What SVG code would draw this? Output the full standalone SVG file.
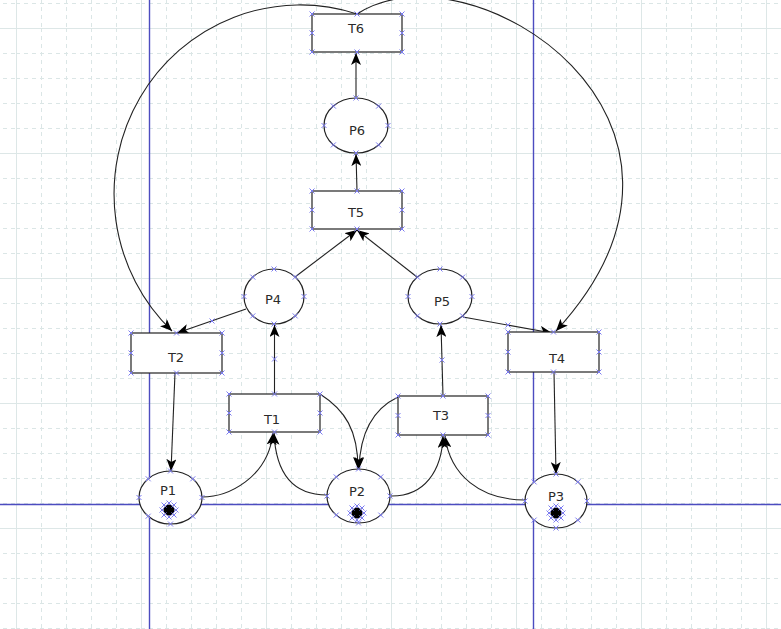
<svg xmlns="http://www.w3.org/2000/svg" xmlns:xlink="http://www.w3.org/1999/xlink" width="781" height="629" viewBox="0 0 781 629">
<style>
.node{fill:#fff;stroke:#222;stroke-width:1.2}
.lbl{font-family:"DejaVu Sans",Verdana,sans-serif;font-size:13px;fill:#2a2a2a;text-anchor:middle}
.arc{fill:none;stroke:#222;stroke-width:1.1;marker-end:url(#ah)}
.xm{fill:none;stroke:#7b7bf0;stroke-width:1}
.guide{stroke:#4c4cc0;stroke-width:1.4}
.tok{fill:#000}
</style>
<defs>
<pattern id="grid" x="16" y="28" width="125" height="125" patternUnits="userSpaceOnUse">
<path d="M0.5,0V125M0,0.5H125" stroke="#dde7e7" fill="none"/>
<path d="M25.5,0V125M50.5,0V125M75.5,0V125M100.5,0V125M0,25.5H125M0,50.5H125M0,75.5H125M0,100.5H125" stroke="#dbe6e6" stroke-dasharray="4,4" fill="none"/>
</pattern>
<marker id="ah" viewBox="0 0 12 10" refX="12" refY="5" markerWidth="12" markerHeight="10" markerUnits="userSpaceOnUse" orient="auto">
<path d="M0,0 L12,5 L0,10 L3,5 z" fill="#000"/>
</marker>
<path id="x" class="xm" d="M-2.5,-2.5l5,5m0,-5l-5,5"/>
</defs>
<rect width="781" height="629" fill="#fff"/>
<rect width="781" height="629" fill="url(#grid)"/>
<g id="guides">
<line class="guide" x1="149.5" y1="0" x2="149.5" y2="629"/>
<line class="guide" x1="533.5" y1="0" x2="533.5" y2="629"/>
<line class="guide" x1="0" y1="504.5" x2="781" y2="504.5"/>
</g>
<g id="connectors">
<path class="arc" d="M357,14 A186,189 0 0,0 172,331"/>
<path class="arc" d="M357,14 C470,-60 750,120 556,331"/>
<path class="arc" d="M356,98 L356,53"/>
<path class="arc" d="M357,191 L356,154"/>
<path class="arc" d="M295,277 L357,230"/>
<path class="arc" d="M417,277 L357,230"/>
<path class="arc" d="M246,309 L177,333"/>
<path class="arc" d="M463,317 L552,333"/>
<path class="arc" d="M274.5,394 L274.5,325"/>
<path class="arc" d="M443,396 L441,325"/>
<path class="arc" d="M175,373 L171,471"/>
<path class="arc" d="M554,372 L556,474"/>
<path class="arc" d="M202,497 C228,497 268,478 273,433"/>
<path class="arc" d="M327,495 C296,495 276,478 274,433"/>
<path class="arc" d="M320,394 C345,410 358,430 358,469"/>
<path class="arc" d="M398,397 C375,408 360,430 359,469"/>
<path class="arc" d="M390,496 C425,497 442,470 443,436"/>
<path class="arc" d="M525,500 C480,500 450,475 445,436"/>
<use href="#x" x="212" y="321"/>
<use href="#x" x="274.5" y="359"/>
<use href="#x" x="442" y="360"/>
<use href="#x" x="508" y="325"/>
</g>
<g id="T6">
<rect class="node" x="312" y="14" width="90" height="38"/>
<text class="lbl" x="356" y="33">T6</text>
<use href="#x" x="312" y="14"/><use href="#x" x="357" y="14"/><use href="#x" x="402" y="14"/><use href="#x" x="312" y="33"/><use href="#x" x="402" y="33"/><use href="#x" x="312" y="52"/><use href="#x" x="357" y="52"/><use href="#x" x="402" y="52"/>
</g>
<g id="P6">
<ellipse class="node" cx="356" cy="125.5" rx="32" ry="27.5"/>
<text class="lbl" x="357" y="135">P6</text>
<use href="#x" x="324" y="125.5"/><use href="#x" x="388" y="125.5"/><use href="#x" x="356" y="98"/><use href="#x" x="356" y="153"/><use href="#x" x="378.6" y="106.1"/><use href="#x" x="378.6" y="144.9"/><use href="#x" x="333.4" y="106.1"/><use href="#x" x="333.4" y="144.9"/>
</g>
<g id="T5">
<rect class="node" x="312" y="191" width="90" height="38"/>
<text class="lbl" x="356" y="217">T5</text>
<use href="#x" x="312" y="191"/><use href="#x" x="357" y="191"/><use href="#x" x="402" y="191"/><use href="#x" x="312" y="210"/><use href="#x" x="402" y="210"/><use href="#x" x="312" y="229"/><use href="#x" x="357" y="229"/><use href="#x" x="402" y="229"/>
</g>
<g id="P4">
<ellipse class="node" cx="274" cy="296.5" rx="30" ry="27.5"/>
<text class="lbl" x="273" y="304">P4</text>
<use href="#x" x="244" y="296.5"/><use href="#x" x="304" y="296.5"/><use href="#x" x="274" y="269"/><use href="#x" x="274" y="324"/><use href="#x" x="295.2" y="277.1"/><use href="#x" x="295.2" y="315.9"/><use href="#x" x="252.8" y="277.1"/><use href="#x" x="252.8" y="315.9"/>
</g>
<g id="P5">
<ellipse class="node" cx="440" cy="296.5" rx="32" ry="27.5"/>
<text class="lbl" x="442" y="306">P5</text>
<use href="#x" x="408" y="296.5"/><use href="#x" x="472" y="296.5"/><use href="#x" x="440" y="269"/><use href="#x" x="440" y="324"/><use href="#x" x="462.6" y="277.1"/><use href="#x" x="462.6" y="315.9"/><use href="#x" x="417.4" y="277.1"/><use href="#x" x="417.4" y="315.9"/>
</g>
<g id="T2">
<rect class="node" x="131" y="333" width="91" height="40"/>
<text class="lbl" x="176" y="362">T2</text>
<use href="#x" x="131" y="333"/><use href="#x" x="176.5" y="333"/><use href="#x" x="222" y="333"/><use href="#x" x="131" y="353"/><use href="#x" x="222" y="353"/><use href="#x" x="131" y="373"/><use href="#x" x="176.5" y="373"/><use href="#x" x="222" y="373"/>
</g>
<g id="T4">
<rect class="node" x="508" y="332" width="91" height="40"/>
<text class="lbl" x="557" y="363">T4</text>
<use href="#x" x="508" y="332"/><use href="#x" x="553.5" y="332"/><use href="#x" x="599" y="332"/><use href="#x" x="508" y="352"/><use href="#x" x="599" y="352"/><use href="#x" x="508" y="372"/><use href="#x" x="553.5" y="372"/><use href="#x" x="599" y="372"/>
</g>
<g id="T1">
<rect class="node" x="229" y="394" width="91" height="38"/>
<text class="lbl" x="272" y="424">T1</text>
<use href="#x" x="229" y="394"/><use href="#x" x="274.5" y="394"/><use href="#x" x="320" y="394"/><use href="#x" x="229" y="413"/><use href="#x" x="320" y="413"/><use href="#x" x="229" y="432"/><use href="#x" x="274.5" y="432"/><use href="#x" x="320" y="432"/>
</g>
<g id="T3">
<rect class="node" x="398" y="396" width="90" height="39"/>
<text class="lbl" x="441" y="420">T3</text>
<use href="#x" x="398" y="396"/><use href="#x" x="443" y="396"/><use href="#x" x="488" y="396"/><use href="#x" x="398" y="415.5"/><use href="#x" x="488" y="415.5"/><use href="#x" x="398" y="435"/><use href="#x" x="443" y="435"/><use href="#x" x="488" y="435"/>
</g>
<g id="P1">
<ellipse class="node" cx="170.5" cy="497.5" rx="31.5" ry="26.5"/>
<text class="lbl" x="168" y="495">P1</text>
<circle class="tok" cx="169" cy="510" r="5.5"/>
<use href="#x" x="169" y="503"/><use href="#x" x="169" y="517"/><use href="#x" x="162" y="510"/><use href="#x" x="176" y="510"/><use href="#x" x="164" y="505"/><use href="#x" x="174" y="505"/><use href="#x" x="164" y="515"/><use href="#x" x="174" y="515"/>
<use href="#x" x="139" y="497.5"/><use href="#x" x="202" y="497.5"/><use href="#x" x="170.5" y="471"/><use href="#x" x="170.5" y="524"/><use href="#x" x="192.8" y="478.8"/><use href="#x" x="192.8" y="516.2"/><use href="#x" x="148.2" y="478.8"/><use href="#x" x="148.2" y="516.2"/>
</g>
<g id="P2">
<ellipse class="node" cx="358.5" cy="496" rx="31.5" ry="27"/>
<text class="lbl" x="357" y="496">P2</text>
<circle class="tok" cx="357" cy="513" r="5.5"/>
<use href="#x" x="357" y="506"/><use href="#x" x="357" y="520"/><use href="#x" x="350" y="513"/><use href="#x" x="364" y="513"/><use href="#x" x="352" y="508"/><use href="#x" x="362" y="508"/><use href="#x" x="352" y="518"/><use href="#x" x="362" y="518"/>
<use href="#x" x="327" y="496"/><use href="#x" x="390" y="496"/><use href="#x" x="358.5" y="469"/><use href="#x" x="358.5" y="523"/><use href="#x" x="380.8" y="476.9"/><use href="#x" x="380.8" y="515.1"/><use href="#x" x="336.2" y="476.9"/><use href="#x" x="336.2" y="515.1"/>
</g>
<g id="P3">
<ellipse class="node" cx="556" cy="501" rx="31" ry="27"/>
<text class="lbl" x="556" y="501">P3</text>
<circle class="tok" cx="556" cy="513" r="5.5"/>
<use href="#x" x="556" y="506"/><use href="#x" x="556" y="520"/><use href="#x" x="549" y="513"/><use href="#x" x="563" y="513"/><use href="#x" x="551" y="508"/><use href="#x" x="561" y="508"/><use href="#x" x="551" y="518"/><use href="#x" x="561" y="518"/>
<use href="#x" x="525" y="501"/><use href="#x" x="587" y="501"/><use href="#x" x="556" y="474"/><use href="#x" x="556" y="528"/><use href="#x" x="577.9" y="481.9"/><use href="#x" x="577.9" y="520.1"/><use href="#x" x="534.1" y="481.9"/><use href="#x" x="534.1" y="520.1"/>
</g>
</svg>
